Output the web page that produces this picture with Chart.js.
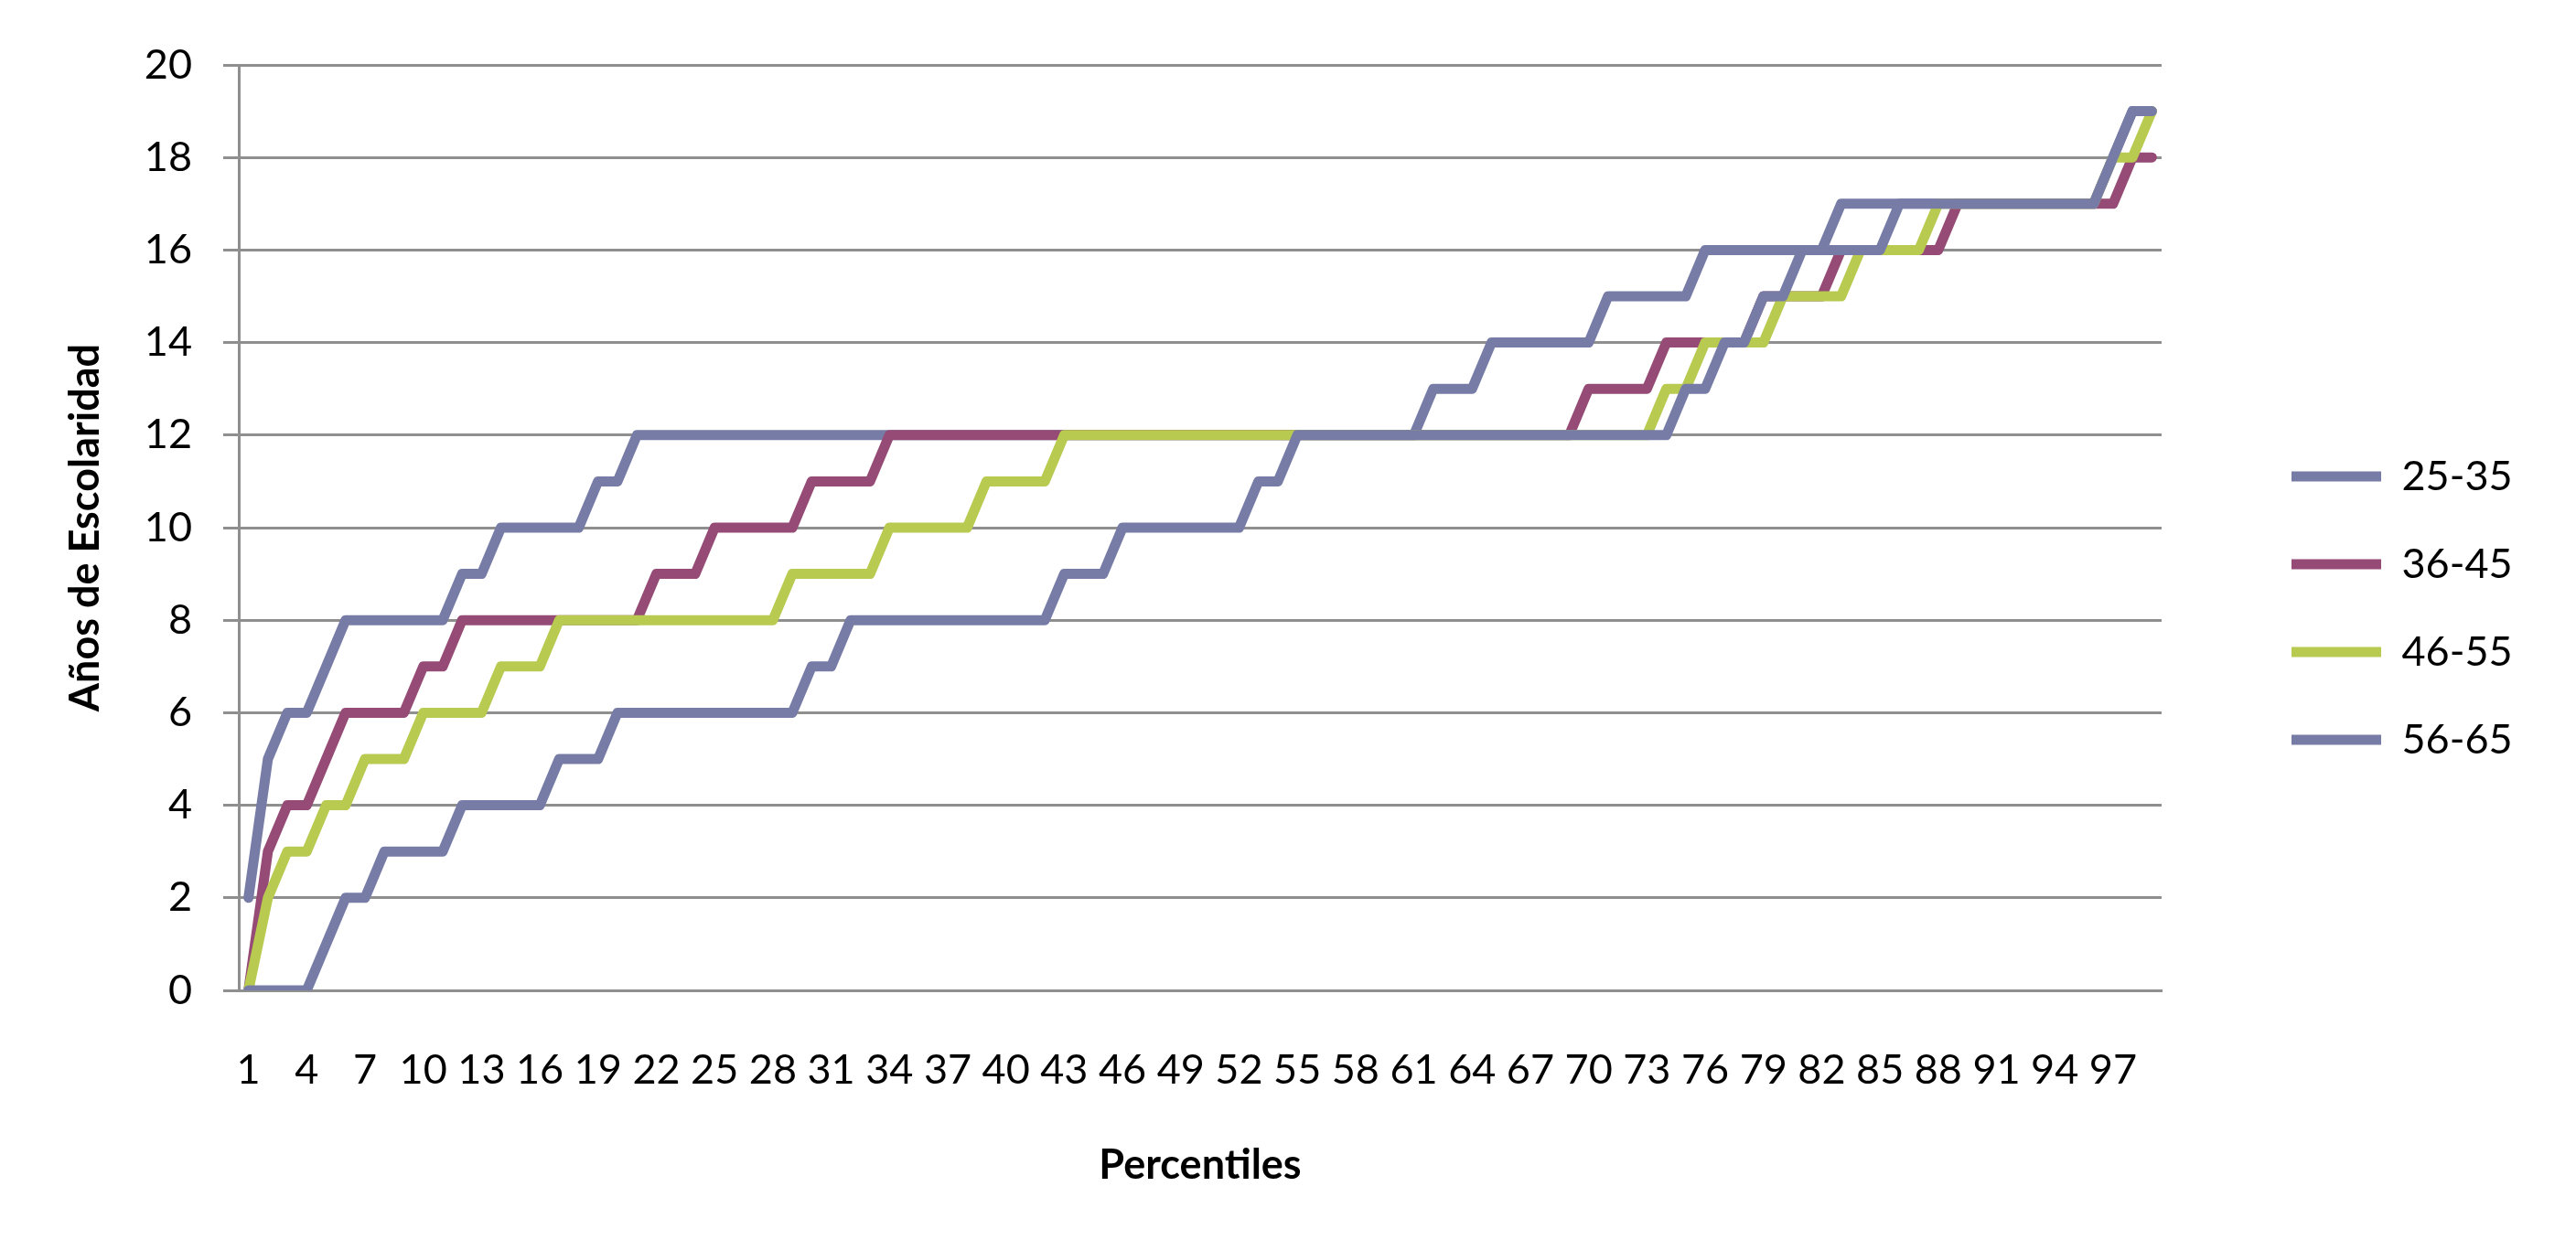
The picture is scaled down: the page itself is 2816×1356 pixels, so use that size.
<!DOCTYPE html>
<html>
<head>
<meta charset="utf-8">
<style>
html,body{margin:0;padding:0;background:#ffffff;overflow:hidden}
canvas{display:block}
</style>
<script src="https://cdn.jsdelivr.net/npm/chart.js@4.4.1/dist/chart.umd.min.js"></script>
</head>
<body>
<canvas id="c" width="2816" height="1356" style="width:2816px;height:1356px"></canvas>
<script>
// ---- data ----
const percentiles = ['1','2','3','4','5','6','7','8','9','10',
  '11','12','13','14','15','16','17','18','19','20',
  '21','22','23','24','25','26','27','28','29','30',
  '31','32','33','34','35','36','37','38','39','40',
  '41','42','43','44','45','46','47','48','49','50',
  '51','52','53','54','55','56','57','58','59','60',
  '61','62','63','64','65','66','67','68','69','70',
  '71','72','73','74','75','76','77','78','79','80',
  '81','82','83','84','85','86','87','88','89','90',
  '91','92','93','94','95','96','97','98','99'];

const seriesNames = ['25-35', '36-45', '46-55', '56-65'];

const edad25a35 = [2,5,6,6,7,8,8,8,8,8,
  8,9,9,10,10,10,10,10,11,11,
  12,12,12,12,12,12,12,12,12,12,
  12,12,12,12,12,12,12,12,12,12,
  12,12,12,12,12,12,12,12,12,12,
  12,12,12,12,12,12,12,12,12,12,
  12,13,13,13,14,14,14,14,14,14,
  15,15,15,15,15,16,16,16,16,16,
  16,16,17,17,17,17,17,17,17,17,
  17,17,17,17,17,17,18,19,19];

const edad36a45 = [0,3,4,4,5,6,6,6,6,7,
  7,8,8,8,8,8,8,8,8,8,
  8,9,9,9,10,10,10,10,10,11,
  11,11,11,12,12,12,12,12,12,12,
  12,12,12,12,12,12,12,12,12,12,
  12,12,12,12,12,12,12,12,12,12,
  12,12,12,12,12,12,12,12,12,13,
  13,13,13,14,14,14,14,14,15,15,
  15,15,16,16,16,16,16,16,17,17,
  17,17,17,17,17,17,17,18,18];

const edad46a55 = [0,2,3,3,4,4,5,5,5,6,
  6,6,6,7,7,7,8,8,8,8,
  8,8,8,8,8,8,8,8,9,9,
  9,9,9,10,10,10,10,10,11,11,
  11,11,12,12,12,12,12,12,12,12,
  12,12,12,12,12,12,12,12,12,12,
  12,12,12,12,12,12,12,12,12,12,
  12,12,12,13,13,14,14,14,14,15,
  15,15,15,16,16,16,16,17,17,17,
  17,17,17,17,17,17,18,18,19];

const edad56a65 = [0,0,0,0,1,2,2,3,3,3,
  3,4,4,4,4,4,5,5,5,6,
  6,6,6,6,6,6,6,6,6,7,
  7,8,8,8,8,8,8,8,8,8,
  8,8,9,9,9,10,10,10,10,10,
  10,10,11,11,12,12,12,12,12,12,
  12,12,12,12,12,12,12,12,12,12,
  12,12,12,12,13,13,14,14,15,15,
  16,16,16,16,16,17,17,17,17,17,
  17,17,17,17,17,17,18,19,19];

const yMin = 0, yMax = 20, yStep = 2;

// ---- styles ----
const colorBlue = '#777ca6';
const colorMagenta = '#954b75';
const colorGreen = '#b8ca4f';
const gridColor = '#8f8f8f';
const tickFont = { family: 'Lato', size: 45 };
const titleFont = { family: 'Lato', size: 45, weight: 'bold' };

function makeSet(label, data, color, order) {
  return {
    label: label,
    data: data,
    borderColor: color,
    backgroundColor: color,
    borderWidth: 11,
    borderJoinStyle: 'round',
    borderCapStyle: 'round',
    pointRadius: 0,
    pointHoverRadius: 0,
    pointStyle: 'line',
    tension: 0,
    fill: false,
    clip: 0,
    order: order
  };
}

const legendPlacer = {
  id: 'legendPlacer',
  afterLayout(chart) {
    const lg = chart.legend;
    if (!lg) return;
    lg.left = 2454;
    lg.right = chart.width;
    lg.width = lg.right - lg.left;
    lg.top = 0;
    lg.bottom = 1330;
    lg.height = 1330;
  }
};

new Chart(document.getElementById('c'), {
  type: 'line',
  data: {
    labels: percentiles,
    datasets: [
      makeSet(seriesNames[0], edad25a35, colorBlue, 4),
      makeSet(seriesNames[1], edad36a45, colorMagenta, 3),
      makeSet(seriesNames[2], edad46a55, colorGreen, 2),
      makeSet(seriesNames[3], edad56a65, colorBlue, 1)
    ]
  },
  options: {
    responsive: false,
    animation: false,
    devicePixelRatio: 1,
    layout: { padding: { top: 71, right: 173, bottom: 0, left: 0 } },
    plugins: {
      legend: {
        position: 'right',
        maxWidth: 280,
        labels: {
          usePointStyle: true,
          pointStyle: 'line',
          pointStyleWidth: 98,
          padding: 51,
          color: '#000000',
          font: tickFont,
          sort: (a, b) => a.datasetIndex - b.datasetIndex
        }
      },
      tooltip: { enabled: false },
      title: { display: false }
    },
    scales: {
      x: {
        type: 'category',
        offset: true,
        grid: { display: false, drawTicks: false },
        border: { display: true, color: gridColor, width: 3 },
        ticks: {
          autoSkip: false,
          maxRotation: 0,
          minRotation: 0,
          padding: 60,
          color: '#000000',
          font: tickFont,
          callback: function (v, i) { return i % 3 === 0 ? this.getLabelForValue(v) : ''; }
        },
        title: {
          display: true,
          text: 'Percentiles',
          color: '#000000',
          font: titleFont,
          padding: { top: 0, bottom: 55 }
        },
        afterFit(scale) { scale.height = 273; }
      },
      y: {
        min: yMin,
        max: yMax,
        ticks: { stepSize: yStep, padding: 34, color: '#000000', font: tickFont },
        grid: { color: gridColor, lineWidth: 3, tickLength: 17, drawTicks: true },
        border: { display: true, color: gridColor, width: 3 },
        title: {
          display: true,
          text: 'Años de Escolaridad',
          color: '#000000',
          font: titleFont,
          padding: { top: 66, bottom: 0 }
        },
        afterFit(scale) { scale.width = 261; }
      }
    }
  },
  plugins: [legendPlacer]
});
</script>
</body>
</html>
